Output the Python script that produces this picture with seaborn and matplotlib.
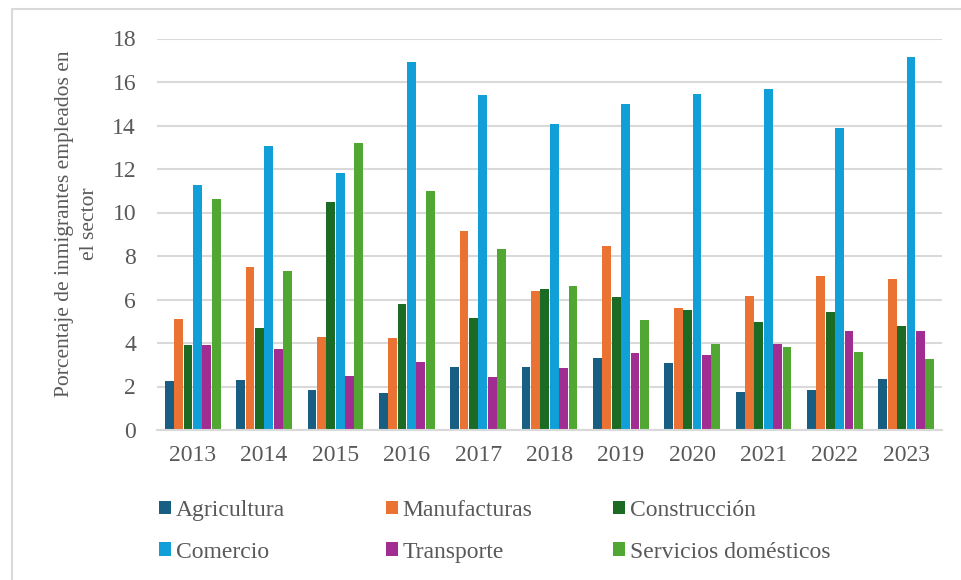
import matplotlib
matplotlib.use("Agg")
import matplotlib.pyplot as plt
from matplotlib.lines import Line2D
import seaborn as sns
import pandas as pd

years = ["2013", "2014", "2015", "2016", "2017", "2018", "2019", "2020", "2021", "2022", "2023"]
agricultura = [2.25, 2.3, 1.84, 1.7, 2.9, 2.9, 3.31, 3.08, 1.75, 1.84, 2.35]
manufacturas = [5.1, 7.5, 4.28, 4.23, 9.15, 6.39, 8.46, 5.61, 6.16, 7.08, 6.95]
construccion = [3.9, 4.7, 10.49, 5.8, 5.15, 6.49, 6.12, 5.52, 4.97, 5.43, 4.78]
comercio = [11.27, 13.06, 11.82, 16.93, 15.41, 14.08, 15.0, 15.46, 15.68, 13.89, 17.16]
transporte = [3.9, 3.73, 2.48, 3.13, 2.44, 2.85, 3.54, 3.45, 3.96, 4.55, 4.55]
servicios = [10.63, 7.31, 13.2, 10.99, 8.33, 6.62, 5.06, 3.96, 3.82, 3.59, 3.27]

series = {
    "Agricultura": agricultura,
    "Manufacturas": manufacturas,
    "Construcción": construccion,
    "Comercio": comercio,
    "Transporte": transporte,
    "Servicios domésticos": servicios,
}
colors = ["#175E82", "#EA7232", "#1B6B24", "#109FD6", "#A12C92", "#50A832"]

rows = []
for name, vals in series.items():
    for y, v in zip(years, vals):
        rows.append({"Año": y, "Sector": name, "Valor": v})
df = pd.DataFrame(rows)

sns.set_theme(style="white")
plt.rcParams["font.family"] = ["Liberation Serif", "DejaVu Serif"]

W, H = 961, 580
fig = plt.figure(figsize=(W / 100, H / 100), dpi=100)
ax = fig.add_axes([157 / W, 1 - 430 / H, 785 / W, (430 - 38.5) / H])

sns.barplot(data=df, x="Año", y="Valor", hue="Sector", palette=colors,
            width=0.79, gap=0.06, ax=ax, legend=True, saturation=1, linewidth=0)

ax.set_ylim(0, 18)
ax.set_xlim(-0.5, 10.5)
ax.set_yticks(range(0, 19, 2))
ax.yaxis.grid(True, color="#d9d9d9", linewidth=1.5)
ax.set_axisbelow(True)
for s in ["top", "right", "left"]:
    ax.spines[s].set_visible(False)
ax.spines["bottom"].set_color("#d9d9d9")
ax.spines["bottom"].set_linewidth(1.5)
ax.tick_params(axis="y", labelsize=17, colors="#595959", length=0, pad=15)
ax.tick_params(axis="x", labelsize=17, colors="#595959", length=0, pad=11)
ax.set_xlabel("")
ax.set_ylabel("")
fig.text(77 / W, 1 - 223.5 / H, "Porcentaje de inmigrantes empleados en\nel sector",
         rotation=90, ha="center", va="center", multialignment="center",
         fontsize=15.5, color="#595959", linespacing=1.45)

handles, labels = ax.get_legend_handles_labels()
ax.get_legend().remove()
col_x = [159, 386, 613]
for i, x in enumerate(col_x):
    hs = [handles[i], handles[i + 3]]
    ls = [labels[i], labels[i + 3]]
    fig.legend(hs, ls, ncol=1, loc="upper left", bbox_to_anchor=(x / W, 1 - 500 / H),
               frameon=False, fontsize=17, labelcolor="#595959", handlelength=0.5,
               handleheight=0.5, handletextpad=0.2, labelspacing=0.87,
               borderpad=0, borderaxespad=0)

fig.add_artist(Line2D([11.5 / W, 11.5 / W], [0, 1 - 9 / H], color="#d9d9d9",
                      linewidth=1.5, transform=fig.transFigure))
fig.add_artist(Line2D([11.5 / W, 1], [1 - 9 / H, 1 - 9 / H], color="#d9d9d9",
                      linewidth=1.5, transform=fig.transFigure))
fig.savefig("out.png", dpi=100)
